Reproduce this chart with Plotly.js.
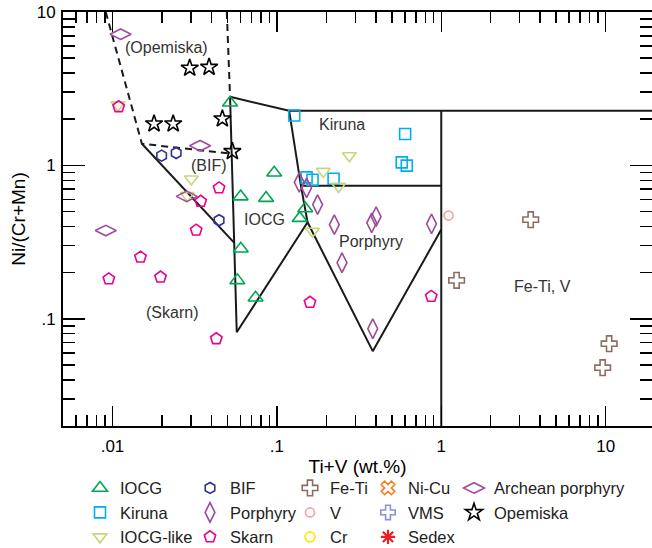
<!DOCTYPE html>
<html>
<head>
<meta charset="utf-8">
<script src="https://cdn.plot.ly/plotly-3.0.1.min.js"></script>
<style>html,body{margin:0;padding:0;background:#fff;}#chart{width:652px;height:548px;}</style>
</head>
<body>
<div id="chart"></div>
<script>
// ---- data (Ti+V wt.% , Ni/(Cr+Mn)) ----
const iocgX = [0.0519, 0.0963, 0.0602, 0.0860, 0.1488, 0.1377, 0.0603, 0.0575, 0.0742];
const iocgY = [2.56, 0.896, 0.626, 0.612, 0.523, 0.453, 0.286, 0.178, 0.137];
const kirunaX = [0.1275, 0.603, 0.575, 0.617, 0.1516, 0.1648, 0.2214];
const kirunaY = [2.116, 1.601, 1.046, 0.996, 0.835, 0.807, 0.819];
const iocgLikeX = [0.276, 0.1916, 0.2375, 0.1648, 0.0302, 0.0285, 0.0108];
const iocgLikeY = [1.157, 0.914, 0.730, 0.372, 0.816, 0.635, 2.48];
const bifX = [0.0199, 0.0244, 0.0445];
const bifY = [1.157, 1.204, 0.439];
const porphyryX = [0.1368, 0.1516, 0.1769, 0.2236, 0.3775, 0.4015, 0.8726, 0.249, 0.383];
const porphyryY = [0.775, 0.713, 0.555, 0.411, 0.422, 0.463, 0.416, 0.232, 0.0861];
const skarnX = [0.0109, 0.0445, 0.0344, 0.0323, 0.0148, 0.0095, 0.0196, 0.0428, 0.159, 0.869];
const skarnY = [2.411, 0.713, 0.583, 0.378, 0.252, 0.182, 0.187, 0.0741, 0.128, 0.140];
const feTiX = [3.50, 1.24, 10.5, 9.59];
const feTiY = [0.443, 0.178, 0.0688, 0.0480];
const vX = [1.108];
const vY = [0.4705];
const crX = [null];
const crY = [null];
const niCuX = [null];
const niCuY = [null];
const vmsX = [null];
const vmsY = [null];
const sedexX = [null];
const sedexY = [null];
const archeanX = [0.0112, 0.0341, 0.0283, 0.0091];
const archeanY = [7.17, 1.344, 0.628, 0.376];
const opemiskaX = [0.0295, 0.0387, 0.0179, 0.0234, 0.0466, 0.0536];
const opemiskaY = [4.31, 4.37, 1.868, 1.868, 2.014, 1.233];

// ---- field boundaries ----
const solidX = [0.0519, 0.0549, 0.0570, 0.1537, 0.383, 1.0, null,
                0.0151, 0.0549, null,
                0.0519, 0.1188, 20, null,
                0.1188, 0.140, 0.1537, null,
                0.140, 1.0, null,
                1.0, 1.0];
const solidY = [2.80, 0.314, 0.0818, 0.4256, 0.0615, 0.3815, null,
                1.384, 0.314, null,
                2.80, 2.27, 2.27, null,
                2.27, 0.738, 0.4256, null,
                0.738, 0.738, null,
                2.27, 0.02];
const dashX = [0.0091, 0.0151, 0.0534, null, 0.0496, 0.0519];
const dashY = [10, 1.384, 1.19, null, 10, 2.80];

// ---- field labels ----
const labelText = ['(Opemiska)', '(BIF)', 'IOCG', 'Kiruna', 'Porphyry', '(Skarn)', 'Fe-Ti, V'];
const labelX = [0.0214, 0.0386, 0.0838, 0.249, 0.374, 0.0229, 4.13];
const labelY = [5.84, 1.0, 0.443, 1.86, 0.32, 0.110, 0.163];

// ---- axis ticks ----
const xTickVals = [0.01, 0.1, 1, 10];
const xTickText = ['.01', '.1', '1', '10'];
const xMinor = [0.006,0.007,0.008,0.009,0.02,0.03,0.04,0.05,0.06,0.07,0.08,0.09,
                0.2,0.3,0.4,0.5,0.6,0.7,0.8,0.9,2,3,4,5,6,7,8,9];
const yTickVals = [0.1, 1, 10];
const yTickText = ['.1', '1', '10'];
const yMinor = [0.03,0.04,0.05,0.06,0.07,0.08,0.09,0.2,0.3,0.4,0.5,0.6,0.7,0.8,0.9,2,3,4,5,6,7,8,9];

const FONT = '"Liberation Sans", Arial, Helvetica, sans-serif';

function series(name, x, y, symbol, color, size, legend, lw) {
  return {
    type: 'scatter', mode: 'markers', name: name, x: x, y: y, legend: legend,
    hoverinfo: 'x+y+name',
    marker: {symbol: symbol, color: color, size: size,
             line: {color: color, width: lw || 1.6}}
  };
}

const traces = [
  {type: 'scatter', mode: 'lines', x: solidX, y: solidY, showlegend: false, hoverinfo: 'skip',
   connectgaps: false, line: {color: '#1a1a1a', width: 2}},
  {type: 'scatter', mode: 'lines', x: dashX, y: dashY, showlegend: false, hoverinfo: 'skip',
   connectgaps: false, line: {color: '#1a1a1a', width: 2, dash: '7px,5px'}},
  series('IOCG', iocgX, iocgY, 'triangle-up-open', '#00A651', 13, 'legend'),
  series('Kiruna', kirunaX, kirunaY, 'square-open', '#00AEEF', 11, 'legend'),
  series('IOCG-like', iocgLikeX, iocgLikeY, 'triangle-down-open', '#C8D67A', 12, 'legend'),
  series('BIF', bifX, bifY, 'hexagon-open', '#2E3192', 11, 'legend2'),
  series('Porphyry', porphyryX, porphyryY, 'diamond-tall-open', '#9E4A96', 14, 'legend2'),
  series('Skarn', skarnX, skarnY, 'pentagon-open', '#EC008C', 12, 'legend2'),
  series('Fe-Ti', feTiX, feTiY, 'cross-open', '#8C6D62', 13, 'legend3'),
  series('V', vX, vY, 'circle-open', '#F4A3A3', 9, 'legend3'),
  series('Cr', crX, crY, 'circle-open', '#FFE800', 10, 'legend3'),
  series('Ni-Cu', niCuX, niCuY, 'x-open', '#F58220', 12, 'legend4'),
  series('VMS', vmsX, vmsY, 'cross-open', '#8F8FD9', 12, 'legend4'),
  series('Sedex', sedexX, sedexY, 'asterisk-open', '#ED1C24', 12, 'legend4', 2.2),
  series('Archean porphyry', archeanX, archeanY, 'diamond-wide-open', '#A24C9C', 15, 'legend5'),
  series('Opemiska', opemiskaX, opemiskaY, 'star-open', '#000000', 13, 'legend5')
];

const annotations = labelText.map((t, i) => ({
  text: t, x: Math.log10(labelX[i]), y: Math.log10(labelY[i]), xref: 'x', yref: 'y',
  showarrow: false, font: {family: FONT, size: 16, color: '#333333'}
}));

function leg(px) {
  return {x: (px - 63) / 589, y: -0.108, xanchor: 'left', yanchor: 'top', orientation: 'v',
          bgcolor: 'rgba(0,0,0,0)', borderwidth: 0, tracegroupgap: 0,
          font: {family: FONT, size: 16.5, color: '#222'}};
}

const axisCommon = {
  showline: true, linecolor: '#000', linewidth: 2, mirror: 'ticks',
  ticks: 'inside', tickcolor: '#000', tickwidth: 1.5,
  showgrid: false, zeroline: false,
  tickfont: {family: FONT, size: 17, color: '#000'}
};

const layout = {
  width: 652, height: 548,
  margin: {l: 63, r: 0, t: 12, b: 122, autoexpand: false},
  paper_bgcolor: '#fff', plot_bgcolor: '#fff',
  font: {family: FONT, color: '#000'},
  showlegend: true,
  xaxis: Object.assign({}, axisCommon, {
    type: 'log', range: [Math.log10(0.005), 1.282],
    tickmode: 'array', tickvals: xTickVals, ticktext: xTickText, ticklen: 20,
    ticklabelstandoff: 4,
    minor: {tickmode: 'array', tickvals: xMinor, ticks: 'inside', ticklen: 11, tickwidth: 1.5, tickcolor: '#000'},
    title: {text: 'Ti+V (wt.%)', font: {family: FONT, size: 19, color: '#000'}, standoff: 4},
    automargin: false
  }),
  yaxis: Object.assign({}, axisCommon, {
    type: 'log', range: [Math.log10(0.02), 1],
    tickmode: 'array', tickvals: yTickVals, ticktext: yTickText, ticklen: 22,
    ticklabelstandoff: 2,
    minor: {tickmode: 'array', tickvals: yMinor, ticks: 'inside', ticklen: 12, tickwidth: 1.5, tickcolor: '#000'},
    title: {text: 'Ni/(Cr+Mn)', font: {family: FONT, size: 19, color: '#000'}, standoff: 6},
    automargin: false
  }),
  annotations: annotations,
  legend: leg(80),
  legend2: leg(190),
  legend3: leg(290),
  legend4: leg(368),
  legend5: leg(454)
};

Plotly.newPlot('chart', traces, layout, {displayModeBar: false, staticPlot: true});
</script>
</body>
</html>
